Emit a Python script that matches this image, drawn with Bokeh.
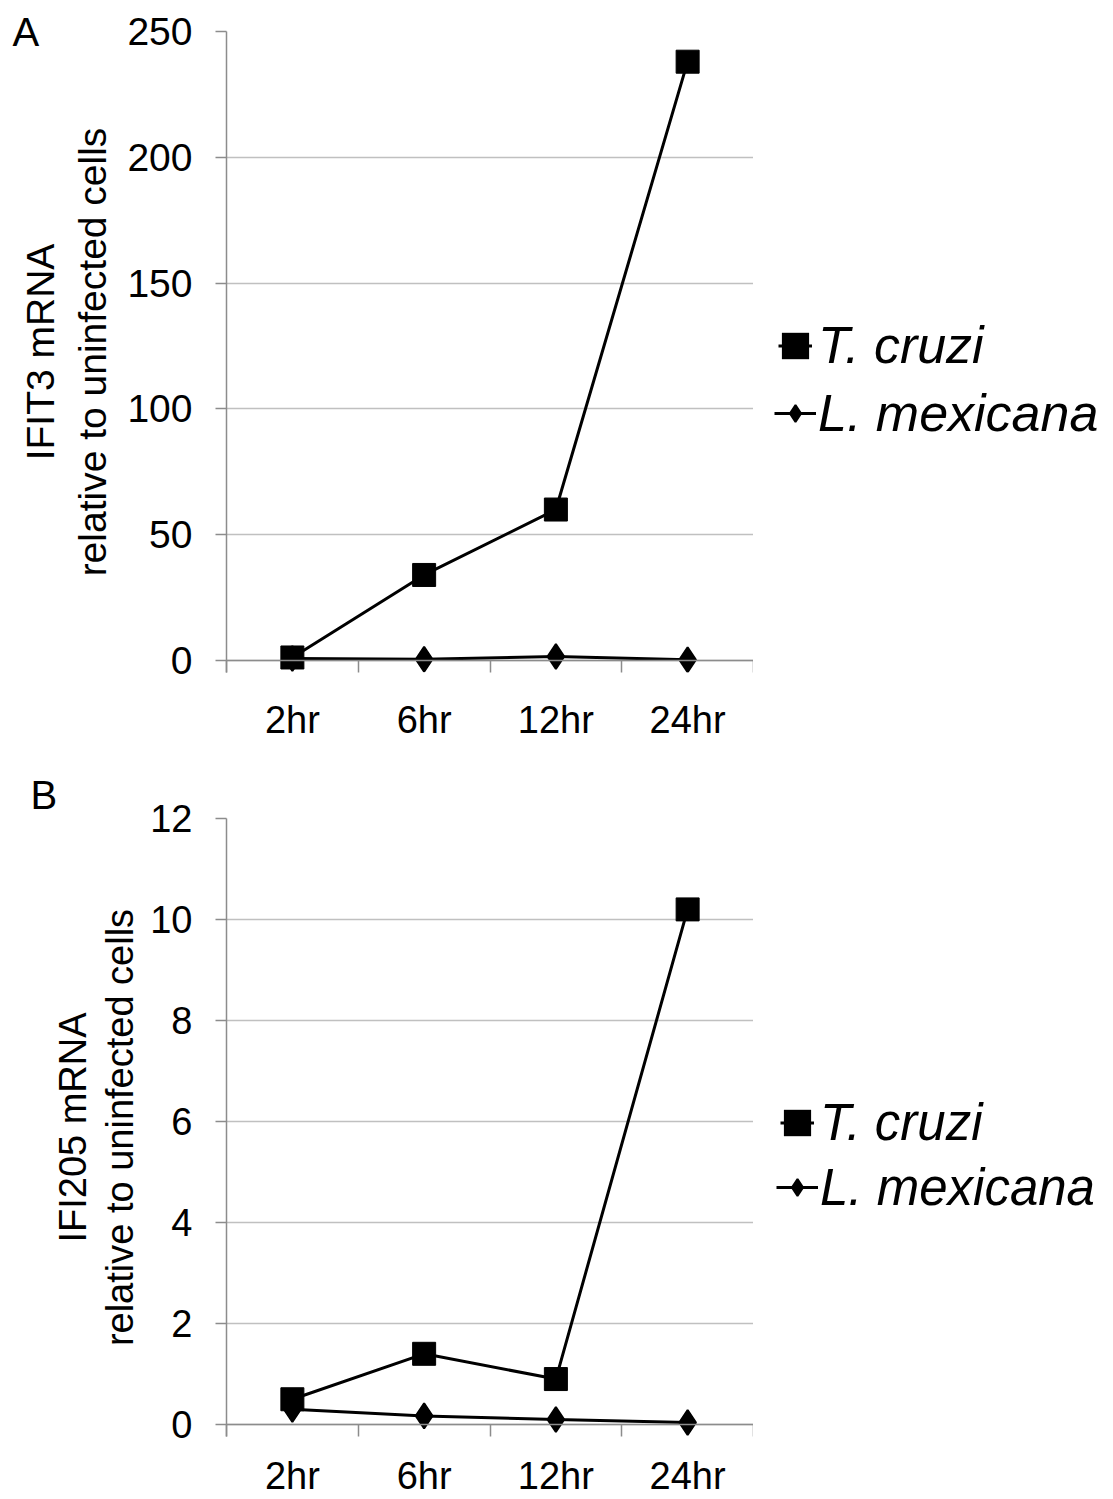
from bokeh.plotting import figure
from bokeh.layouts import column, row
from bokeh.models import Range1d, FixedTicker, Title, Legend, LegendItem, Span
from bokeh.embed import file_html
from bokeh.resources import INLINE

# Time points after infection
categories = ["2hr", "6hr", "12hr", "24hr"]

# IFIT3 mRNA, fold change relative to uninfected cells
ifit3_t_cruzi = [1.2, 34, 60, 238]
ifit3_l_mexicana = [0.8, 0.5, 1.6, 0.3]
ifit3_ticks = [0, 50, 100, 150, 200, 250]

# IFI205 mRNA, fold change relative to uninfected cells
ifi205_t_cruzi = [0.5, 1.4, 0.9, 10.2]
ifi205_l_mexicana = [0.3, 0.17, 0.1, 0.04]
ifi205_ticks = [0, 2, 4, 6, 8, 10, 12]

series_names = ["T. cruzi", "L. mexicana"]

FONT = "Liberation Sans"
GRID = "#c0c0c0"
AXIS = "#8c8c8c"
INK = "black"
WIDTH = 1113
FRAME_LEFT = 226
FRAME_RIGHT = 753
DROP = 12  # room below the zero line so markers sitting on it stay whole
ITEM_H = 60


def draw_series(p, xs, t_cruzi, l_mex):
    lm_line = p.line(xs, l_mex, line_color=INK, line_width=3)
    lm_pts = p.scatter(xs, l_mex, marker="diamond", size=25, fill_color=INK,
                       line_color=INK, line_width=2)
    tc_line = p.line(xs, t_cruzi, line_color=INK, line_width=3)
    tc_pts = p.scatter(xs, t_cruzi, marker="square", size=23, fill_color=INK,
                       line_color=INK, line_width=1)
    # zero-size boxes on the same points: they only supply the square legend key
    tc_key = p.rect(xs, t_cruzi, width=0, height=0, fill_color=INK, line_color=None)
    return [tc_line, tc_key], [lm_line, lm_pts], [tc_pts]


def key_legend(label, renderers, x, bottom, glyph_w, glyph_h, standoff, fs):
    return Legend(
        items=[LegendItem(label=label, renderers=renderers)],
        location=(x, bottom),
        glyph_width=glyph_w, glyph_height=glyph_h, label_height=ITEM_H,
        label_standoff=standoff,
        label_text_font=FONT, label_text_font_size=fs, label_text_font_style="italic",
        label_text_color=INK, border_line_color=None, background_fill_alpha=0,
        inactive_fill_alpha=0, padding=0, margin=0,
    )


def make_panel(letter, gene, t_cruzi, l_mex, yticks, lay):
    xs = [i + 1 for i in range(len(categories))]
    ymax = yticks[-1]
    zero_px = lay["zero"]
    y_start = -DROP * ymax / (zero_px - lay["top"])
    frame_bottom = zero_px + DROP
    border_bottom = lay["height"] - frame_bottom

    p = figure(
        width=FRAME_RIGHT, height=lay["height"],
        output_backend="svg", toolbar_location=None,
        x_range=Range1d(0.5, len(categories) + 0.5),
        y_range=Range1d(y_start, ymax),
        min_border_left=FRAME_LEFT, min_border_right=0,
        min_border_top=lay["top"], min_border_bottom=border_bottom,
    )
    p.outline_line_color = None
    p.background_fill_color = "white"
    p.border_fill_color = "white"

    # horizontal gridlines only
    p.xgrid.visible = False
    p.ygrid.ticker = FixedTicker(ticks=yticks)
    p.ygrid.grid_line_color = GRID
    p.ygrid.grid_line_width = 1.5

    # value axis
    yax = p.yaxis[0]
    yax.ticker = FixedTicker(ticks=yticks)
    yax.axis_line_color = AXIS
    yax.axis_line_width = 1.5
    yax.major_tick_line_color = AXIS
    yax.major_tick_line_width = 1.5
    yax.major_tick_out = 11
    yax.major_tick_in = 0
    yax.minor_tick_line_color = None
    yax.major_label_standoff = 23
    yax.major_label_text_font = FONT
    yax.major_label_text_font_size = lay["tickfs"]
    yax.major_label_text_color = INK

    # category axis: names centred in each slot, ticks on slot boundaries
    xax = p.xaxis[0]
    xax.ticker = FixedTicker(ticks=xs, minor_ticks=[x - 0.5 for x in xs] + [xs[-1] + 0.5])
    xax.major_label_overrides = {x: c for x, c in zip(xs, categories)}
    xax.axis_line_color = None
    xax.major_tick_line_color = None
    xax.major_tick_out = 0
    xax.major_tick_in = 0
    xax.minor_tick_line_color = AXIS
    xax.minor_tick_line_width = 1.5
    xax.minor_tick_out = 0
    xax.minor_tick_in = DROP
    xax.major_label_standoff = lay["xstand"]
    xax.major_label_text_font = FONT
    xax.major_label_text_font_size = "38px"
    xax.major_label_text_color = INK

    # baseline at zero
    p.add_layout(Span(location=0, dimension="width", line_color=AXIS, line_width=1.5))

    # two-line value-axis title
    inner = Title(text="relative to uninfected cells", align="center",
                  text_font=FONT, text_font_size=lay["titlefs"], text_font_style="normal",
                  text_color=INK, standoff=lay["t2stand"])
    p.add_layout(inner, "left")
    outer = Title(text=f"{gene} mRNA", align="center",
                  text_font=FONT, text_font_size=lay["titlefs"], text_font_style="normal",
                  text_color=INK, standoff=lay["t1stand"])
    p.add_layout(outer, "left")

    # panel letter
    p.add_layout(Title(text=letter, align="left", offset=lay["letx"] - FRAME_LEFT,
                       text_font=FONT, text_font_size="40px", text_font_style="normal",
                       text_color=INK, standoff=lay["letstand"]), "above")

    draw_series(p, xs, t_cruzi, l_mex)

    # key to the right of the chart, on its own canvas with the same frame rows
    k = figure(
        width=WIDTH - FRAME_RIGHT, height=lay["height"],
        output_backend="svg", toolbar_location=None,
        x_axis_location=None, y_axis_location=None,
        x_range=Range1d(0.5, len(categories) + 0.5),
        y_range=Range1d(y_start, ymax),
        min_border_left=0, min_border_right=0,
        min_border_top=lay["top"], min_border_bottom=border_bottom,
    )
    k.outline_line_color = None
    k.grid.visible = False
    k.background_fill_color = "white"
    k.border_fill_color = "white"
    tc_r, lm_r, extra = draw_series(k, xs, t_cruzi, l_mex)
    for r in tc_r + lm_r + extra:
        r.visible = False

    # entry rows: vertical centres measured from the top of the canvas
    y1, y2 = lay["legrows"]
    k.add_layout(key_legend(series_names[0], tc_r, lay["legx"] - FRAME_RIGHT,
                            frame_bottom - (y1 + ITEM_H / 2), 34, 33, 6, lay["legfs"]))
    k.add_layout(key_legend(series_names[1], lm_r, lay["legx"] - 4 - FRAME_RIGHT,
                            frame_bottom - (y2 + ITEM_H / 2), 42, 42, 2, lay["legfs"]))
    return row(p, k, spacing=0)


panel_a = make_panel(
    "A", "IFIT3", ifit3_t_cruzi, ifit3_l_mexicana, ifit3_ticks,
    dict(height=760, top=31, zero=660, xstand=26, tickfs="39px", titlefs="39px",
         t2stand=21, t1stand=-7, letx=12, letstand=-45,
         legx=778, legrows=(345, 413), legfs="52px"),
)
panel_b = make_panel(
    "B", "IFI205", ifi205_t_cruzi, ifi205_l_mexicana, ifi205_ticks,
    dict(height=739, top=58, zero=664, xstand=18, tickfs="38px", titlefs="38px",
         t2stand=13, t1stand=-7, letx=30, letstand=3,
         legx=780, legrows=(362, 427), legfs="51px"),
)

layout = column(panel_a, panel_b, spacing=0)
open("out.html", "w").write(file_html(layout, INLINE))
